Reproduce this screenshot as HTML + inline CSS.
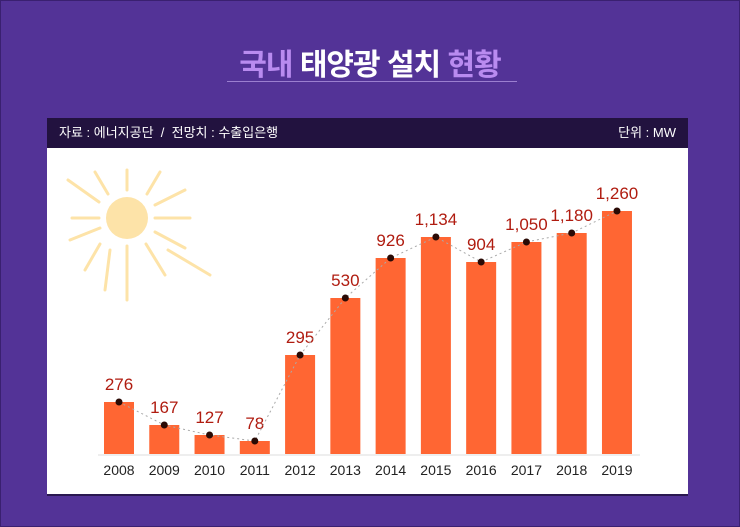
<!DOCTYPE html><html><head><meta charset="utf-8"><style>
body{margin:0;width:740px;height:527px;background:#533397;overflow:hidden;font-family:"Liberation Sans","Noto Sans CJK KR",sans-serif;position:relative}
.frame{position:absolute;left:0;top:0;width:738px;height:525px;border:1px solid #3a2070}
.title{position:absolute;left:0;width:740px;top:40px;text-align:center;font-size:30px;font-weight:bold;color:#fff;letter-spacing:-1px}
.title .p{color:#b98bf0}
.uline{position:absolute;left:227px;top:81px;width:290px;height:1px;background:#9b7fd0}
.hdr{position:absolute;left:47px;top:118px;width:641px;height:30px;background:#22123f;color:#fff;font-size:13px;line-height:30px}
.panel{position:absolute;left:47px;top:148px;width:641px;height:346px;background:#fff;border-bottom:2px solid #2a1850}
</style></head><body>
<div class="frame"></div>
<div class="title"><span class="p">국내</span> 태양광 설치 <span class="p">현황</span></div>
<div class="uline"></div>
<div class="hdr"><span style="position:absolute;left:12px">자료 : 에너지공단 &nbsp;/ &nbsp;전망치 : 수출입은행</span><span style="position:absolute;right:12px">단위 : MW</span></div>
<div class="panel"></div>
<svg style="position:absolute;left:0;top:0" width="740" height="527">
<g stroke="#fde3a8" stroke-width="3" stroke-linecap="round">
<line x1="127" y1="170" x2="127" y2="190"/><line x1="127" y1="246" x2="127" y2="300"/>
<line x1="72" y1="218" x2="99" y2="218"/><line x1="155" y1="218" x2="190" y2="218"/>
<line x1="160" y1="172" x2="147" y2="194"/><line x1="185" y1="190" x2="155" y2="205"/>
<line x1="70" y1="240" x2="100" y2="228"/><line x1="100" y1="244" x2="85" y2="270"/>
<line x1="155" y1="232" x2="185" y2="248"/><line x1="146" y1="244" x2="165" y2="275"/>
<line x1="95" y1="172" x2="108" y2="194"/><line x1="68" y1="180" x2="99" y2="202"/>
<line x1="110" y1="250" x2="105" y2="290"/><line x1="168" y1="250" x2="210" y2="275"/>
</g>
<circle cx="127" cy="218" r="21" fill="#fde3a8"/>
<line x1="98" y1="455" x2="640" y2="455" stroke="#ddd"/>
<g id="bars"></g>
</svg>
<script>
var v=[276,167,127,78,295,530,926,1134,904,1050,1180,1260],t=[402,425,435,441,355,298,258,237,262,242,233,211],s="",pts=[];
for(var i=0;i<v.length;i++){var cx=119+i*45.27,y=t[i],h=454-y;pts.push(cx+","+y);
s+='<rect x="'+(cx-15)+'" y="'+y+'" width="30" height="'+h+'" fill="#ff6633"/>';
s+='<text x="'+cx+'" y="'+(y-12)+'" text-anchor="middle" font-size="17" fill="#b01c10" font-family="Liberation Sans">'+v[i].toLocaleString("en-US")+'</text>';
s+='<text x="'+cx+'" y="475" text-anchor="middle" font-size="14" fill="#222" font-family="Liberation Sans">'+(2008+i)+'</text>';}
s+='<polyline points="'+pts.join(" ")+'" fill="none" stroke="#aaa" stroke-dasharray="2,3"/>';
pts.forEach(function(p){var a=p.split(",");s+='<circle cx="'+a[0]+'" cy="'+a[1]+'" r="3.5" fill="#2a0a05"/>';});
document.getElementById("bars").innerHTML=s;
</script>
</body></html>
